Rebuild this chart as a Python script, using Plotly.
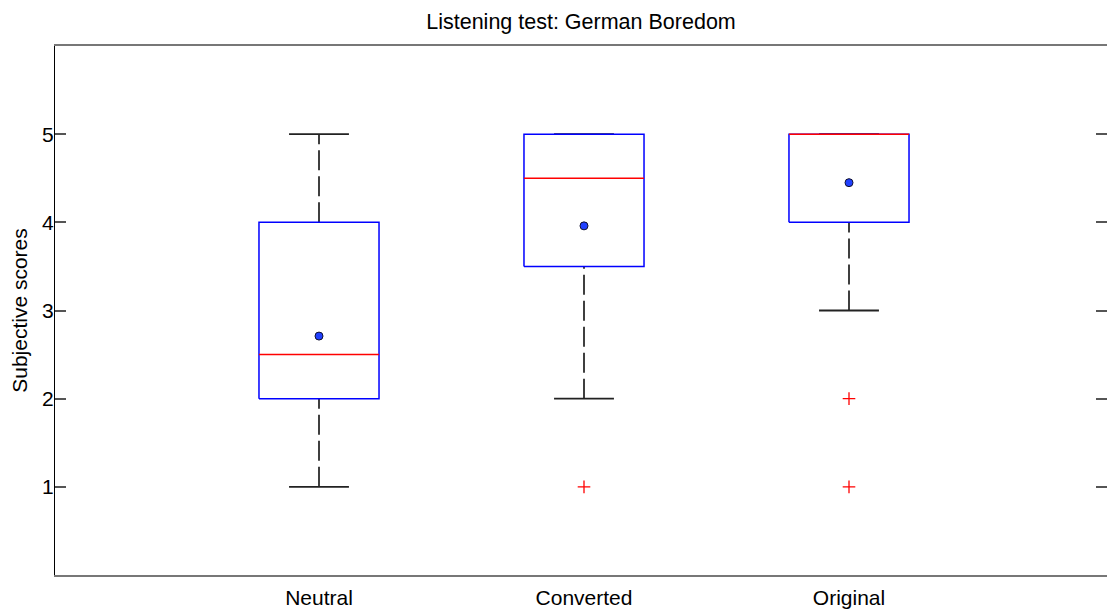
import plotly.graph_objects as go

# Listening test results per condition (five-number summaries, means, outliers)
categories = ["Neutral", "Converted", "Original"]
positions = [1, 2, 3]
q1 = [2.0, 3.5, 4.0]
median = [2.5, 4.5, 5.0]
q3 = [4.0, 5.0, 5.0]
whisker_low = [1.0, 2.0, 3.0]
whisker_high = [5.0, 5.0, 5.0]
means = [2.71, 3.96, 4.45]
outlier_pos = [2, 3, 3]
outlier_val = [1.0, 2.0, 1.0]
y_ticks = [1, 2, 3, 4, 5]

BOX_HALF = 0.2265
CAP_HALF = 0.113
FONT = "Liberation Sans, Arial, sans-serif"

fig = go.Figure()

for x, lo, hi, a, b, m in zip(positions, whisker_low, whisker_high, q1, q3, median):
    # dashed whiskers
    fig.add_trace(go.Scatter(x=[x, x, None, x, x], y=[lo, a, None, b, hi], mode="lines",
                             line=dict(color="black", width=1.5, dash="20px,6px"),
                             hoverinfo="skip", showlegend=False))
    # whisker caps
    fig.add_trace(go.Scatter(x=[x - CAP_HALF, x + CAP_HALF, None, x - CAP_HALF, x + CAP_HALF],
                             y=[lo, lo, None, hi, hi], mode="lines",
                             line=dict(color="#222222", width=1.8),
                             hoverinfo="skip", showlegend=False))
    # box
    fig.add_trace(go.Scatter(x=[x - BOX_HALF, x + BOX_HALF, x + BOX_HALF, x - BOX_HALF, x - BOX_HALF],
                             y=[a, a, b, b, a], mode="lines",
                             line=dict(color="#0000ff", width=1.5),
                             hoverinfo="skip", showlegend=False))
    # median
    fig.add_trace(go.Scatter(x=[x - BOX_HALF, x + BOX_HALF], y=[m, m], mode="lines",
                             line=dict(color="#ff0000", width=1.5),
                             hoverinfo="skip", showlegend=False))

# outliers
fig.add_trace(go.Scatter(x=outlier_pos, y=outlier_val, mode="markers",
                         marker=dict(symbol="cross-thin", size=9,
                                     line=dict(color="#ff0000", width=1.3)),
                         showlegend=False))

# means
fig.add_trace(go.Scatter(x=positions, y=means, mode="markers",
                         marker=dict(symbol="circle", size=8, color="#2040ff",
                                     line=dict(color="#101030", width=1)),
                         showlegend=False))

# right-side tick marks
fig.add_trace(go.Scatter(x=[positions[0]], y=[y_ticks[0]], yaxis="y2", mode="markers",
                         marker=dict(opacity=0), hoverinfo="skip", showlegend=False))

fig.update_layout(
    width=1107, height=612,
    margin=dict(l=55, r=0, t=46, b=37, autoexpand=False),
    paper_bgcolor="white", plot_bgcolor="white",
    font=dict(family=FONT, size=21, color="black"),
    title=dict(text="Listening test: German Boredom", x=0.5, xref="paper",
               y=1 - 21 / 612, yref="container", xanchor="center", yanchor="middle",
               font=dict(family=FONT, size=21.5, color="black")),
    xaxis=dict(range=[0.00377, 3.9736], tickvals=positions, ticktext=categories,
               ticks="", showgrid=False, zeroline=False, automargin=False,
               showline=True, mirror=True, linecolor="#777777", linewidth=2,
               ticklabelstandoff=3, tickfont=dict(size=21)),
    yaxis=dict(range=[0, 6], tickvals=y_ticks, ticks="inside", ticklen=11,
               tickcolor="#555555", tickwidth=1.5, showgrid=False, zeroline=False,
               showline=True, linecolor="black", linewidth=1.2, automargin=False,
               ticklabelstandoff=-4,
               title=dict(text="Subjective scores", standoff=8, font=dict(size=21)),
               tickfont=dict(size=21)),
    yaxis2=dict(range=[0, 6], overlaying="y", side="right", tickvals=y_ticks,
                ticks="inside", ticklen=11, tickcolor="#555555", tickwidth=1.5,
                showticklabels=False, showgrid=False, zeroline=False, showline=False,
                automargin=False),
)

fig.write_html("out.html")
